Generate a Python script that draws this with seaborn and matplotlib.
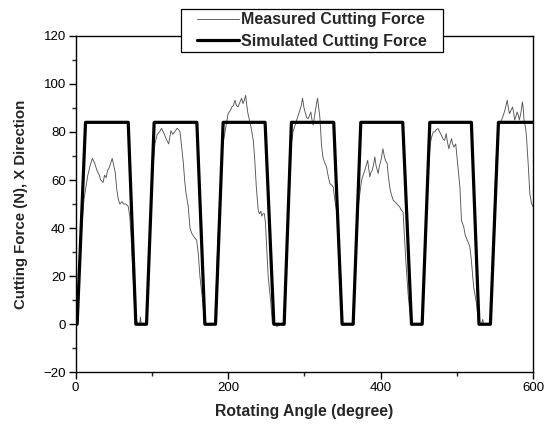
import matplotlib
matplotlib.use("Agg")
import matplotlib.pyplot as plt
from matplotlib.patches import Rectangle
from matplotlib.ticker import MultipleLocator
import seaborn as sns
import pandas as pd

# ---------------- data ----------------
sim_angle = [0, 2, 13, 69, 79, 93, 103, 159, 169.5, 183.5, 193.5, 248.5, 260, 273.5,
             283, 338.5, 349.5, 364, 374, 429, 440.5, 454.5, 464.5, 519, 529, 544, 554.5, 600]
sim_force = [0, 0, 84, 84, 0, 0, 84, 84, 0, 0, 84, 84, 0, 0,
             84, 84, 0, 0, 84, 84, 0, 0, 84, 84, 0, 0, 84, 84]

meas_angle = [
    0, 2, 5, 8, 11, 14, 16, 19, 22, 25, 28, 31, 33, 36, 38, 40, 42, 44, 46, 48, 50, 52, 54, 56, 58, 61, 63, 66, 69,
    71, 72.5, 74, 75.5, 77, 79, 82, 84, 85, 86, 93,
    96, 99, 102, 104, 107, 110, 112.7, 115, 117, 119, 122, 125, 127.5, 130, 133, 135, 137, 139, 141, 143, 144.6,
    147.7, 150, 152, 154, 156, 158.7, 161, 163, 166.5, 169.5, 183,
    186, 190, 193, 196, 198, 200, 203, 205, 207, 209, 211, 213, 215, 217.7, 219.5, 221, 223, 224.5, 226, 228, 230,
    233, 235, 237, 239.5, 241, 243, 244, 246, 247.5, 249, 250.4, 252.6, 255.7, 258, 262, 264, 267, 273,
    276, 280, 283, 285, 288, 290, 292, 294, 296, 297.6, 299.5, 301.6, 303, 305, 307, 308.5, 310, 311.5, 313, 314.5,
    316, 317.3, 318.8, 320.3, 322.5, 324.6, 327, 329, 331, 333.4, 335.5, 337.8, 340, 343.5, 345.6, 348, 349.6, 364,
    367, 371, 375, 377, 379.3, 381, 383, 385.8, 387, 388.9, 390.5, 392.4, 394, 396.8, 398.5, 400, 401.5, 403, 405,
    406.5, 408.6, 410, 412, 414, 416.5, 418.5, 420.8, 423, 425, 427, 429.5, 430.5, 433, 436, 438, 440.5, 455,
    458, 462, 465, 467, 469, 471, 473, 475.4, 477.5, 479.8, 482, 484, 486, 487.5, 489.5, 491, 493, 494.5, 496, 498.5,
    500, 501.7, 504, 506, 509, 511, 513.5, 515, 517, 519, 522, 525.8, 528.8, 532, 534, 535, 544,
    547, 551, 554, 556, 558.6, 561, 563, 566, 567.5, 569, 571, 573, 574.5, 575.8, 577.5, 579, 580.5, 582, 584, 586,
    587, 588, 590, 591.3, 593.5, 595.7, 597.9, 600]
meas_force = [
    0, 3, 20, 40, 52, 58, 62, 66, 69, 67, 64, 62, 60, 59, 62, 61, 64, 65, 67, 69, 66, 63, 56, 52, 50, 51, 50, 50, 49,
    45, 38, 28, 20, 10, 2, 0, 0, 3, 0, 0,
    25, 50, 68, 75, 79, 80, 81.5, 80, 78.5, 77, 75, 80.5, 79, 80, 81.5, 81, 80, 74, 68, 60, 55,
    49, 40, 38, 37, 36, 35, 29, 20, 10, 0, 0,
    30, 60, 75, 80, 84, 87.6, 89, 90.4, 91, 93.2, 91, 90.4, 92, 94, 91.8, 93, 95.2, 91, 87.6, 85, 82,
    76.5, 68, 57, 47.4, 46, 47, 45, 46, 46, 42, 33.6, 19.7, 10, 0.5, 0, -1, 0, 0,
    25, 55, 75, 80, 83, 85, 87, 89, 91, 94, 90, 87.6, 86, 85.5, 87, 88.3, 85, 82.8, 86, 89,
    92, 94, 90, 86.2, 74.4, 69, 67, 65.5, 62, 58.5, 58, 57.1, 51.6, 44.7, 32.3, 18.4, 0, 0,
    25, 50, 59.9, 62, 64, 66, 68.2, 61.3, 63, 64, 66, 69.6, 66, 62.7, 66, 67.5, 70, 73, 69.6,
    68, 66.8, 62, 57, 54, 51.6, 51, 50.2, 49.5, 48.8, 47.5, 46.7, 40.5, 26.6, 12.8, 6, 0, 0,
    30, 60, 75, 78, 80, 80, 81, 81.4, 80, 78.6, 77, 76.5, 79.3, 76, 73, 75, 77.2, 75, 73.7, 75,
    70, 64, 57, 43.3, 40.5, 37, 35, 34, 32.3, 26.6, 15.5, 8.6, 0, 0, 2, 0, 0,
    30, 65, 82, 83, 85, 87, 89, 93.2, 90, 87.6, 89, 90.4, 88, 85, 86.5, 88.3, 87, 85, 88, 92.5,
    90, 85, 82, 78, 66.8, 54.3, 50.2, 49]

x_ticks = [0, 200, 400, 600]
y_ticks = [-20, 0, 20, 40, 60, 80, 100, 120]

meas_df = pd.DataFrame({"angle": meas_angle, "force": meas_force})
sim_df = pd.DataFrame({"angle": sim_angle, "force": sim_force})

# ---------------- style ----------------
sns.set_style("ticks")
plt.rcParams["font.family"] = ["Liberation Sans", "DejaVu Sans"]
plt.rcParams["axes.linewidth"] = 1.0
plt.rcParams["xtick.major.size"] = 5
plt.rcParams["ytick.major.size"] = 5
plt.rcParams["xtick.minor.size"] = 3
plt.rcParams["ytick.minor.size"] = 3
plt.rcParams["xtick.direction"] = "out"
plt.rcParams["ytick.direction"] = "out"

fig = plt.figure(figsize=(5.44, 4.26), dpi=100)
ax = fig.add_axes([0.139, 0.126, 0.841, 0.790])

sns.lineplot(data=meas_df, x="angle", y="force", ax=ax, color="#555555", lw=0.65,
             estimator=None, sort=False, label="Measured Cutting Force")
sns.lineplot(data=sim_df, x="angle", y="force", ax=ax, color="black", lw=2.3,
             estimator=None, sort=False, label="Simulated Cutting Force")

ax.set_xlim(0, 600)
ax.set_ylim(-20, 120)
ax.set_xticks(x_ticks)
ax.set_yticks(y_ticks)
ax.xaxis.set_minor_locator(MultipleLocator(100))
ax.yaxis.set_minor_locator(MultipleLocator(10))
ax.tick_params(axis="both", which="major", labelsize=9.5, width=1.0, pad=2, colors="black")
ax.tick_params(axis="both", which="minor", width=1.0)
for s in ax.spines.values():
    s.set_visible(True)
    s.set_color("black")

ax.set_xlabel("Rotating Angle (degree)", fontsize=11.3, fontweight="bold", labelpad=7)
ax.set_ylabel("Cutting Force (N), X Direction", fontsize=10.8, fontweight="bold", labelpad=11)

# legend box
box_x0 = (181 - 75.7) / 457.6
box_w = (443 - 181) / 457.6
box_y0 = 1 - (52 - 35.7) / 336.6
box_h = 43 / 336.6
ax.add_patch(Rectangle((box_x0, box_y0), box_w, box_h, transform=ax.transAxes,
                       facecolor="white", edgecolor="black", lw=0.9, clip_on=False, zorder=4))
leg = ax.legend(loc="center", bbox_to_anchor=(box_x0 + box_w / 2, box_y0 + box_h / 2),
                frameon=False, handlelength=2.6, handletextpad=0.15,
                labelspacing=0.4, borderpad=0.0, prop={"weight": "bold", "size": 11.5})
leg.set_zorder(5)

fig.savefig("out.png", dpi=100)
